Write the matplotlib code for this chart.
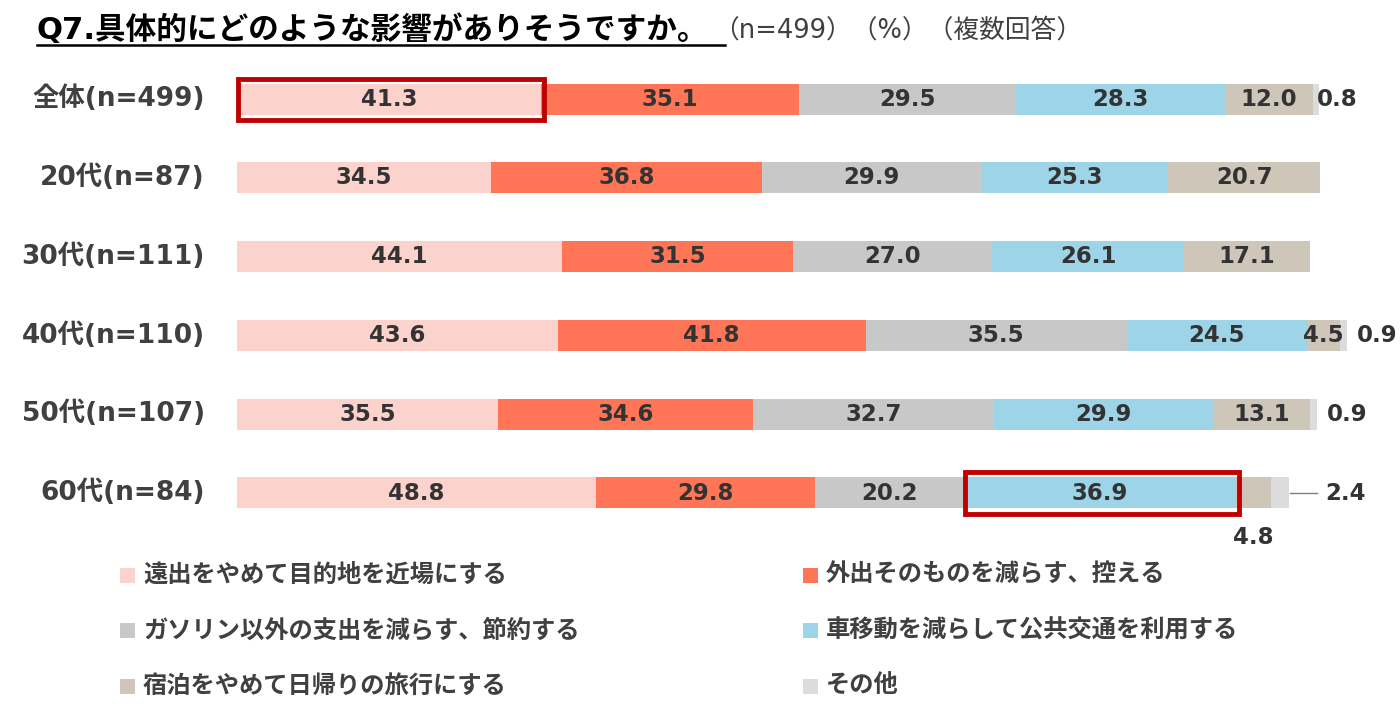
import matplotlib
matplotlib.use("Agg")
import matplotlib.pyplot as plt
from matplotlib.patches import Rectangle
from matplotlib.lines import Line2D
import numpy as np

plt.rcParams['font.family'] = ['DejaVu Sans', 'Noto Sans CJK JP']

categories = ["全体(n=499)", "20代(n=87)", "30代(n=111)", "40代(n=110)", "50代(n=107)", "60代(n=84)"]
series_names = ["遠出をやめて目的地を近場にする", "外出そのものを減らす、控える",
                "ガソリン以外の支出を減らす、節約する", "車移動を減らして公共交通を利用する",
                "宿泊をやめて日帰りの旅行にする", "その他"]
s_near = [41.3, 34.5, 44.1, 43.6, 35.5, 48.8]
s_less = [35.1, 36.8, 31.5, 41.8, 34.6, 29.8]
s_save = [29.5, 29.9, 27.0, 35.5, 32.7, 20.2]
s_public = [28.3, 25.3, 26.1, 24.5, 29.9, 36.9]
s_dayTrip = [12.0, 20.7, 17.1, 4.5, 13.1, 4.8]
s_other = [0.8, 0.0, 0.0, 0.9, 0.9, 2.4]
series = [s_near, s_less, s_save, s_public, s_dayTrip, s_other]
colors = ["#FCD3CC", "#FF7557", "#C8C8C8", "#9DD4E7", "#CEC7B9", "#DCDCDC"]
highlights = [(0, 0), (5, 3)]  # (row, series)

W, H = 1400, 719
fig = plt.figure(figsize=(W / 100, H / 100), dpi=100)

px_per_unit = 7.36
row_gap = 78.8
ax_left, ax_right = 237, 1400
ax_top, ax_bot = 60, 545
first_row = 99
ax = fig.add_axes([ax_left / W, 1 - ax_bot / H, (ax_right - ax_left) / W, (ax_bot - ax_top) / H])
ax.set_xlim(0, (ax_right - ax_left) / px_per_unit)
ax.set_ylim((ax_bot - first_row) / row_gap, -(first_row - ax_top) / row_gap)
ax.axis('off')

y = np.arange(len(categories))
bar_h = 31 / row_gap
label_color = "#333333"
fs_val = 16.5

left = np.zeros(len(categories))
for si, vals in enumerate(series):
    vals = np.array(vals)
    ax.barh(y, vals, left=left, height=bar_h, color=colors[si], edgecolor='none')
    for ri, v in enumerate(vals):
        if v <= 0:
            continue
        cx = left[ri] + v / 2
        if si == 5:
            tot = left[ri] + v
            if ri == 5:
                ax.plot([tot + 0.2, tot + 3.8], [ri, ri], color="#808080", lw=1)
                ax.text(tot + 4.9, ri, f"{v:.1f}", ha='left', va='center', fontsize=fs_val,
                        fontweight='bold', color=label_color)
            else:
                off = -0.3 if ri == 0 else 1.4
                ax.text(tot + off, ri, f"{v:.1f}", ha='left', va='center', fontsize=fs_val,
                        fontweight='bold', color=label_color)
        elif si == 4 and ri == 5:
            ax.text(cx, ri + 0.56, f"{v:.1f}", ha='center', va='center', fontsize=fs_val,
                    fontweight='bold', color=label_color)
        else:
            ax.text(cx, ri, f"{v:.1f}", ha='center', va='center', fontsize=fs_val,
                    fontweight='bold', color=label_color)
    left = left + vals

# highlight boxes
cum = np.cumsum(np.array(series), axis=0)
for ri, si in highlights:
    start = cum[si - 1][ri] if si > 0 else 0.0
    end = cum[si][ri]
    pad_y = 5 / row_gap
    ax.add_patch(Rectangle((start + 0.1, ri - bar_h / 2 - pad_y), end - start + 0.3,
                           bar_h + 2 * pad_y, fill=False, edgecolor="#C00000", lw=3.5,
                           clip_on=False, zorder=5))

# category labels
for ri, c in enumerate(categories):
    ax.text(-32 / px_per_unit, ri, c, ha='right', va='center', fontsize=19,
            fontweight='bold', color="#404040")

# title
fig.text(37 / W, 1 - 30 / H, "Q7.具体的にどのような影響がありそうですか。", ha='left', va='center',
         fontsize=22.1, fontweight='bold', color="#000000")
fig.add_artist(Line2D([37 / W, 725 / W], [1 - 44.5 / H, 1 - 44.5 / H], color="#000000", lw=1.8))
fig.text(713 / W, 1 - 31 / H, "（n=499）（%）（複数回答）", ha='left', va='center',
         fontsize=18.5, color="#404040")

# legend
leg_x = [120, 803]
leg_y = [575, 630, 686]
sq = 15
for i, name in enumerate(series_names):
    col = i % 2
    row = i // 2
    x0 = leg_x[col]
    yc = leg_y[row]
    fig.add_artist(Rectangle((x0 / W, 1 - (yc + sq / 2) / H), sq / W, sq / H,
                             transform=fig.transFigure, facecolor=colors[i], edgecolor='none'))
    fig.text((x0 + 23) / W, 1 - yc / H, name, ha='left', va='center', fontsize=17.5,
             fontweight='bold', color="#404040")

fig.savefig("out.png", dpi=100, facecolor='white')
